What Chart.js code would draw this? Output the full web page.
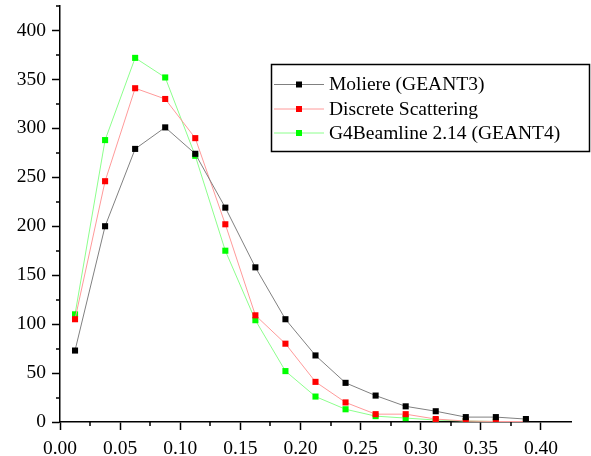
<!DOCTYPE html>
<html>
<head>
<meta charset="utf-8">
<script src="https://cdn.jsdelivr.net/npm/chart.js@4"></script>
<style>
  html, body { margin: 0; padding: 0; background: #fff; }
  #wrap { width: 591px; height: 456px; position: relative; }
</style>
</head>
<body>
<div id="wrap"><canvas id="scatter-chart"></canvas></div>
<script>
// Angle bins (x) and counts for each model
const angles = [0.0125, 0.0375, 0.0625, 0.0875, 0.1125, 0.1375, 0.1625, 0.1875,
                0.2125, 0.2375, 0.2625, 0.2875, 0.3125, 0.3375, 0.3625, 0.3875];
const moliere = [73, 200, 279, 301, 274, 219, 158, 105, 68, 40, 27, 16, 11, 5, 5, 3];
const discrete = [105, 246, 341, 330, 290, 202, 109, 80, 41, 20, 8, 8, 3, 1, 0.5, 0.5];
const beamline = [110, 288, 372, 352, 272, 175, 104, 52, 26, 13, 6, 4, 2, 1, 0.5, 0.5];
const seriesNames = ['Moliere (GEANT3)', 'Discrete Scattering', 'G4Beamline 2.14 (GEANT4)'];
const xTicks = [0, 0.05, 0.10, 0.15, 0.20, 0.25, 0.30, 0.35, 0.40];
const yTicks = [0, 50, 100, 150, 200, 250, 300, 350, 400];

const FONT = "'Liberation Serif', 'DejaVu Serif', serif";

function toPoints(ys) {
    return angles.map((x, i) => ({ x: x, y: ys[i] }));
}

function makeSet(label, values, lineColor, markColor) {
    return {
        label: label,
        data: toPoints(values),
        borderColor: lineColor,
        backgroundColor: markColor,
        borderWidth: 1,
        pointStyle: 'rect',
        pointRadius: 4.3,
        pointBorderWidth: 0,
        pointBackgroundColor: markColor,
        tension: 0
    };
}

// minor ticks halfway between the labelled ones
const minorTicks = {
    id: 'minorTicks',
    afterDraw(chart) {
        const ctx = chart.ctx;
        const xs = chart.scales.x, ys = chart.scales.y;
        const area = chart.chartArea;
        ctx.save();
        ctx.strokeStyle = '#000';
        ctx.lineWidth = 1.5;
        ctx.beginPath();
        for (let i = 0; i < xTicks.length; i++) {
            const v = xTicks[i] + 0.025;
            if (v > xs.max) break;
            const px = Math.round(xs.getPixelForValue(v));
            ctx.moveTo(px, area.bottom);
            ctx.lineTo(px, area.bottom + 4);
        }
        for (let i = 0; i < yTicks.length; i++) {
            const v = yTicks[i] + 25;
            if (v > ys.max) break;
            const py = Math.round(ys.getPixelForValue(v));
            ctx.moveTo(area.left, py);
            ctx.lineTo(area.left - 4, py);
        }
        ctx.stroke();
        ctx.restore();
    }
};

// boxed legend drawn inside the plot
const boxLegend = {
    id: 'boxLegend',
    afterDraw(chart) {
        const ctx = chart.ctx;
        const left = 271, top = 64, w = 318, h = 87;
        const rows = [84, 108.5, 132.5];
        ctx.save();
        ctx.fillStyle = '#fff';
        ctx.fillRect(left, top, w, h);
        ctx.strokeStyle = '#000';
        ctx.lineWidth = 1.5;
        ctx.strokeRect(left + 0.5, top + 0.5, w, h);
        ctx.font = '19.5px ' + FONT;
        ctx.textBaseline = 'middle';
        chart.data.datasets.forEach((ds, i) => {
            const y = rows[i];
            ctx.strokeStyle = ds.borderColor;
            ctx.lineWidth = 1;
            ctx.beginPath();
            ctx.moveTo(274, y + 0.5);
            ctx.lineTo(324, y + 0.5);
            ctx.stroke();
            ctx.fillStyle = ds.pointBackgroundColor;
            ctx.fillRect(296, y - 2.5, 6, 6);
            ctx.fillStyle = '#000';
            ctx.fillText(ds.label, 329, y + 1);
        });
        ctx.restore();
    }
};

function initChart() {
    const ctx = document.getElementById('scatter-chart').getContext('2d');
    new Chart(ctx, {
        type: 'line',
        data: {
            datasets: [
                makeSet(seriesNames[0], moliere, '#808080', '#000000'),
                makeSet(seriesNames[1], discrete, '#ff9a9a', '#ff0000'),
                makeSet(seriesNames[2], beamline, '#8cff8c', '#00ff00')
            ]
        },
        options: {
            responsive: true,
            maintainAspectRatio: false,
            animation: false,
            layout: { padding: { top: 6, right: 20, left: 0, bottom: 0 } },
            scales: {
                x: {
                    type: 'linear',
                    min: 0,
                    max: 0.425,
                    border: { display: true, color: '#000', width: 1.5 },
                    grid: { drawOnChartArea: false, drawTicks: true, tickLength: 8, tickColor: '#000', tickWidth: 1.5 },
                    ticks: {
                        stepSize: 0.05,
                        includeBounds: false,
                        maxRotation: 0,
                        autoSkip: false,
                        color: '#000',
                        padding: 7,
                        font: { family: FONT, size: 19.5 },
                        callback: v => v.toFixed(2)
                    },
                    afterFit(scale) {
                        scale.height = 34;
                        scale.paddingLeft = 0;
                        scale.paddingRight = 0;
                    }
                },
                y: {
                    min: 0,
                    max: 425,
                    border: { display: true, color: '#000', width: 1.5 },
                    grid: { drawOnChartArea: false, drawTicks: true, tickLength: 8, tickColor: '#000', tickWidth: 1.5 },
                    ticks: {
                        stepSize: 50,
                        includeBounds: false,
                        autoSkip: false,
                        color: '#000',
                        padding: 6,
                        font: { family: FONT, size: 19.5 }
                    },
                    afterFit(scale) {
                        scale.width = 60;
                        scale.paddingTop = 0;
                        scale.paddingBottom = 0;
                    }
                }
            },
            plugins: {
                legend: { display: false },
                tooltip: { enabled: false }
            }
        },
        plugins: [minorTicks, boxLegend]
    });
}

initChart();
</script>
</body>
</html>
